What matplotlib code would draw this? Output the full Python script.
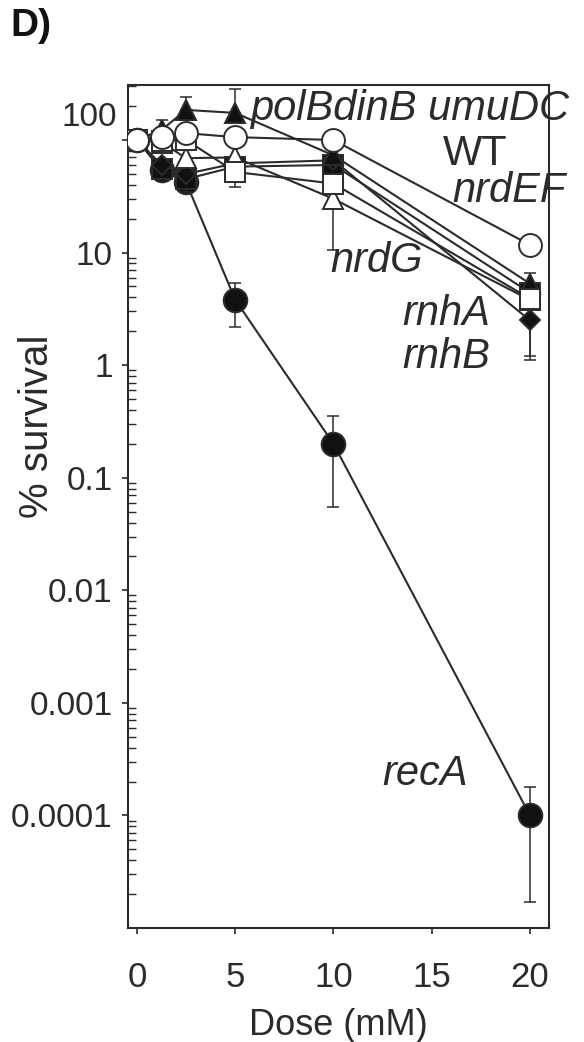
import numpy as np
import matplotlib
matplotlib.use("Agg")
import matplotlib.pyplot as plt
from matplotlib.ticker import FixedLocator, FixedFormatter, LogLocator, NullFormatter

# ---------------- data ----------------
dose = [0, 1.25, 2.5, 5, 10, 20]

wt    = [100, 106, 115, 106, 100, 11.7]
polb  = [100, 123, 185, 174, 73, 5.3]
nrdef = [100, 98, 100, 52, 41, 3.9]
nrdg  = [100, 95, 69, 70, 30, 3.8]
rnha  = [100, 60, 50, 62, 66, 2.5]
rnhb  = [100, 55, 45, 58, 60, 4.4]
reca  = [100, 54, 42, 3.8, 0.2, 1e-4]

nan = float("nan")
# error bar ends (absolute values); nan = no bar on that side
polb_lo  = [nan, nan, nan, nan, nan, nan]
polb_hi  = [nan, 150, 240, 285, nan, nan]
nrdef_lo = [nan, nan, nan, 38, nan, nan]
nrdef_hi = [nan, nan, nan, nan, nan, nan]
nrdg_lo  = [nan, nan, nan, nan, 10.5, nan]
nrdg_hi  = [nan, nan, nan, nan, nan, nan]
rnha_lo  = [nan, nan, nan, nan, nan, 1.1]
rnha_hi  = [nan, nan, nan, nan, nan, 6.6]
rnhb_lo  = [nan, nan, 34.5, nan, nan, 1.2]
rnhb_hi  = [nan, nan, nan, nan, nan, nan]
reca_lo  = [nan, nan, nan, 2.2, 0.055, 1.7e-5]
reca_hi  = [nan, nan, nan, 5.4, 0.35, 1.8e-4]

ytick_vals = [100, 10, 1, 0.1, 0.01, 0.001, 0.0001]
ytick_labels = ["100", "10", "1", "0.1", "0.01", "0.001", "0.0001"]
xtick_vals = [0, 5, 10, 15, 20]
xtick_labels = ["0", "5", "10", "15", "20"]

# labels: (text, x, y, style, ha)
annotations = [
    ("polBdinB umuDC", 5.75, 150, "italic", "left"),
    ("WT", 15.57, 60, "normal", "left"),
    ("nrdEF", 16.07, 28, "italic", "left"),
    ("nrdG", 9.82, 6.7, "italic", "left"),
    ("rnhA", 13.48, 2.27, "italic", "left"),
    ("rnhB", 13.48, 0.94, "italic", "left"),
    ("recA", 16.84, 1.86e-4, "italic", "right"),
]

# ---------------- figure ----------------
plt.rcParams["font.family"] = ["Liberation Sans", "DejaVu Sans"]
INK = "#2b2b2b"

W, H = 584, 1042
fig = plt.figure(figsize=(W / 100, H / 100), dpi=100)
fig.patch.set_facecolor("white")
L, R, T, B = 128, 549, 85, 928
ax = fig.add_axes([L / W, 1 - B / H, (R - L) / W, (B - T) / H])

ax.set_yscale("log")
ax.set_xlim(-0.46, 20.97)
ax.set_ylim(1e-5, 308)

def draw(vals, lo, hi, marker, ms, face, z):
    x = np.array(dose, float)
    v = np.array(vals, float)
    lo = np.array(lo, float)
    hi = np.array(hi, float)
    m = ~np.isnan(lo)
    if m.any():
        ax.errorbar(x[m], v[m], yerr=[v[m] - lo[m], np.zeros(m.sum())],
                    fmt="none", ecolor=INK, elinewidth=1.1, capsize=4.5,
                    capthick=1.1, zorder=z - 0.5)
    m = ~np.isnan(hi)
    if m.any():
        ax.errorbar(x[m], v[m], yerr=[np.zeros(m.sum()), hi[m] - v[m]],
                    fmt="none", ecolor=INK, elinewidth=1.1, capsize=4.5,
                    capthick=1.1, zorder=z - 0.5)
    ax.plot(x, v, color=INK, lw=1.5, marker=marker, ms=ms,
            markerfacecolor=face, markeredgecolor=INK, markeredgewidth=1.4,
            zorder=z)

draw(reca, reca_lo, reca_hi, "o", 17, "#111111", 3)
draw(rnhb, rnhb_lo, rnhb_hi, "s", 14, "#111111", 4)
draw(rnha, rnha_lo, rnha_hi, "D", 10.5, "#111111", 5)
draw(polb, polb_lo, polb_hi, "^", 15, "#111111", 6)
draw(nrdg, nrdg_lo, nrdg_hi, "^", 15, "white", 7)
draw(nrdef, nrdef_lo, nrdef_hi, "s", 15, "white", 8)
draw(wt, [nan] * 6, [nan] * 6, "o", 16.5, "white", 9)

# ticks
shown_labels = [""] + ytick_labels[1:]   # top label is drawn slightly raised below
ax.yaxis.set_major_locator(FixedLocator(ytick_vals))
ax.yaxis.set_major_formatter(FixedFormatter(shown_labels))
ax.yaxis.set_minor_locator(LogLocator(base=10, subs=np.arange(2, 10), numticks=20))
ax.yaxis.set_minor_formatter(NullFormatter())
ax.set_xticks(xtick_vals)
ax.set_xticklabels(xtick_labels)

ax.tick_params(axis="y", which="major", direction="out", length=4, width=1.2,
               color=INK, labelsize=24, labelcolor=INK, pad=7)
ax.tick_params(axis="y", which="minor", direction="in", length=6, width=1.0,
               color=INK)
ax.tick_params(axis="x", which="major", direction="out", length=4, width=1.2,
               color=INK, labelsize=25, labelcolor=INK, pad=20)
ax.tick_params(top=False, right=False)
for s in ax.spines.values():
    s.set_color(INK)
    s.set_linewidth(1.5)

ax.annotate(ytick_labels[0], xy=(0, ytick_vals[0]),
            xycoords=("axes fraction", "data"),
            xytext=(-11, 22), textcoords="offset pixels",
            ha="right", va="center", fontsize=24, color=INK,
            annotation_clip=False)

ax.set_xlabel("Dose (mM)", fontsize=26, color=INK, labelpad=10)
ax.set_ylabel("% survival", fontsize=29, color=INK)
ax.yaxis.set_label_coords(-0.17, 0.595)

for text, x, y, st, ha in annotations:
    ax.text(x, y, text, fontsize=30, style=st, color=INK, ha=ha,
            va="baseline", clip_on=False, zorder=20)

fig.text(10 / W, 1 - 8 / H, "D)", fontsize=28, fontweight="bold", color="#111111",
         ha="left", va="top")

fig.savefig("out.png", dpi=100, facecolor="white")
